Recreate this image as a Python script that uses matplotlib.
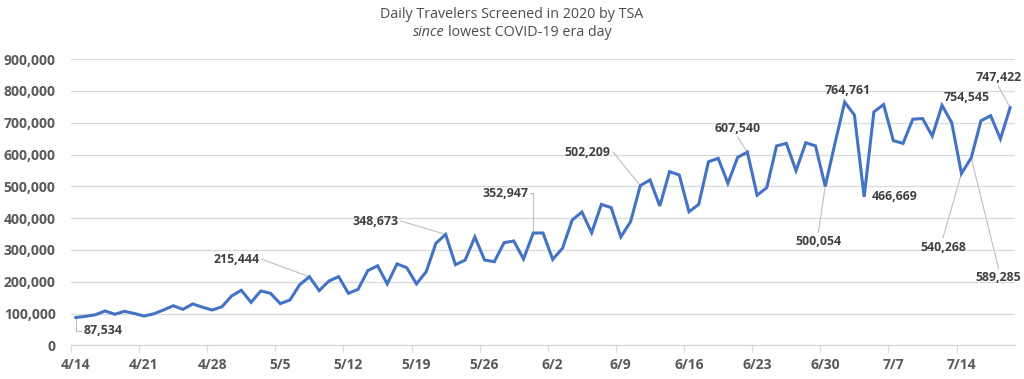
import matplotlib
matplotlib.use("Agg")
import matplotlib.pyplot as plt
import pandas as pd
import numpy as np
from matplotlib.offsetbox import TextArea, HPacker, AnchoredOffsetbox

# ---------------- data ----------------
start_date = "2020-04-14"
travelers = [
    87534, 91000, 96000, 108000, 97500, 107000, 100000, 92000, 99000, 111000,
    124500, 113000, 130000, 120000, 111000, 121000, 155000, 173000, 135000, 171000,
    163500, 131000, 142500, 190600, 215444, 172000, 202000, 216000, 163500, 176000,
    235000, 250000, 193000, 256000, 244000, 193000, 231500, 321000, 348673, 253500,
    268000, 340600, 268000, 263000, 322700, 328000, 271400, 352947, 353300, 270000,
    305000, 394000, 419000, 354000, 443000, 433000, 340600, 389000, 502209, 520000,
    438000, 546000, 535600, 420000, 443000, 577000, 588000, 509500, 591000, 607540,
    472000, 496000, 627000, 635000, 549000, 637000, 627000, 500054, 635000, 764761,
    724000, 466669, 734000, 757000, 643500, 635000, 711000, 713000, 658000, 754545,
    700000, 540268, 589285, 706000, 722000, 649000, 747422,
]
dates = pd.date_range(start_date, periods=len(travelers), freq="D")
x_tick_labels = ["4/14", "4/21", "4/28", "5/5", "5/12", "5/19", "5/26",
                 "6/2", "6/9", "6/16", "6/23", "6/30", "7/7", "7/14"]
y_ticks = list(range(0, 900001, 100000))

# labelled points: (date, text-offset in days, text-offset in travelers, leader style)
labelled = [
    ("2020-04-14", 2.8, -41500, "elbow_down"),
    ("2020-05-08", -7.5, 55000, "line"),
    ("2020-05-22", -7.2, 42000, "line"),
    ("2020-05-31", -2.9, 125000, "elbow_up"),
    ("2020-06-11", -5.4, 105000, "line"),
    ("2020-06-22", -1.0, 75000, "line_short"),
    ("2020-07-02", 0.3, 36000, None),
    ("2020-07-04", 3.1, 0, None),
    ("2020-06-30", -0.7, -174000, "line_below"),
    ("2020-07-12", 2.5, 25000, None),
    ("2020-07-14", -1.9, -232000, "line_below"),
    ("2020-07-15", 2.8, -377000, "line_below"),
    ("2020-07-19", -1.2, 95000, "line_short"),
]

# ---------------- style ----------------
W, H, DPI = 1024, 379, 100
line_color = "#4472C4"
grid_color = "#d9d9d9"
tick_color = "#595959"
label_color = "#404040"
title_color = "#4d4d4d"
leader_color = "#bfbfbf"
FONT = ["Open Sans", "DejaVu Sans"]
plt.rcParams["font.family"] = FONT

fig = plt.figure(figsize=(W / DPI, H / DPI), dpi=DPI)
left, right, bottom_px, top_px = 71, 1015, 345.3, 59.1
ax = fig.add_axes([left / W, 1 - bottom_px / H, (right - left) / W, (bottom_px - top_px) / H])

day_idx = np.arange(len(travelers))
ax.plot(day_idx, travelers, color=line_color, lw=2.2, solid_joinstyle="miter", zorder=3)

ax.set_xlim(-0.5, len(travelers) - 0.5)
ax.set_ylim(0, 900000)

# y axis
ax.set_yticks(y_ticks)
ax.set_yticklabels([f"{v:,}" for v in y_ticks])
ax.yaxis.grid(True, color=grid_color, lw=0.9, zorder=0)
ax.tick_params(axis="y", length=0, pad=11, labelsize=10, labelcolor=tick_color)
for lab in ax.get_yticklabels():
    lab.set_fontweight("bold")

# x axis: tick marks at week boundaries, labels at day centres
label_pos = [i * 7 for i in range(len(x_tick_labels))]
ax.set_xticks([p - 0.5 for p in label_pos])
ax.set_xticklabels([])
ax.tick_params(axis="x", which="major", length=5, width=0.9, color=grid_color)
ax.set_xticks(label_pos, minor=True)
ax.set_xticklabels(x_tick_labels, minor=True)
ax.tick_params(axis="x", which="minor", length=0, pad=9, labelsize=10, labelcolor=tick_color)
for lab in ax.get_xticklabels(minor=True):
    lab.set_fontweight("bold")

for s in ["top", "right", "left"]:
    ax.spines[s].set_visible(False)
ax.spines["bottom"].set_color(grid_color)
ax.spines["bottom"].set_linewidth(0.9)

# data labels
date_list = list(dates.strftime("%Y-%m-%d"))
for d, dx, dy, style in labelled:
    i = date_list.index(d)
    v = travelers[i]
    tx, ty = i + dx, v + dy
    ax.text(tx, ty, f"{v:,}", ha="center", va="center", fontsize=8.9,
            fontweight="bold", color=label_color, zorder=4)
    kw = dict(color=leader_color, lw=0.8, zorder=2, clip_on=False)
    if style == "elbow_down":
        ax.plot([i, i, tx - 2.3], [v, ty, ty], **kw)
    elif style == "elbow_up":
        ax.plot([tx + 2.6, i, i], [ty, ty, v], **kw)
    elif style == "line":
        ax.plot([tx + 2.6, i], [ty, v], **kw)
    elif style == "line_short":
        ax.plot([tx, i], [ty - 28000, v], **kw)
    elif style == "line_below":
        ax.plot([tx, i], [ty + 30000, v], **kw)

# title
fig.text(0.5, 1 - 14 / H, "Daily Travelers Screened in 2020 by TSA", ha="center", va="center",
         fontsize=10.3, color=title_color)
ta1 = TextArea("since", textprops=dict(fontsize=10.3, color=title_color, style="italic", family=FONT))
ta2 = TextArea("lowest COVID-19 era day", textprops=dict(fontsize=10.3, color=title_color, family=FONT))
pack = HPacker(children=[ta1, ta2], align="baseline", pad=0, sep=2.2)
ab = AnchoredOffsetbox(loc="center", child=pack, frameon=False, pad=0, borderpad=0,
                       bbox_to_anchor=(0.5, 1 - 33 / H), bbox_transform=fig.transFigure)
fig.add_artist(ab)

fig.savefig("out.png", dpi=DPI)
